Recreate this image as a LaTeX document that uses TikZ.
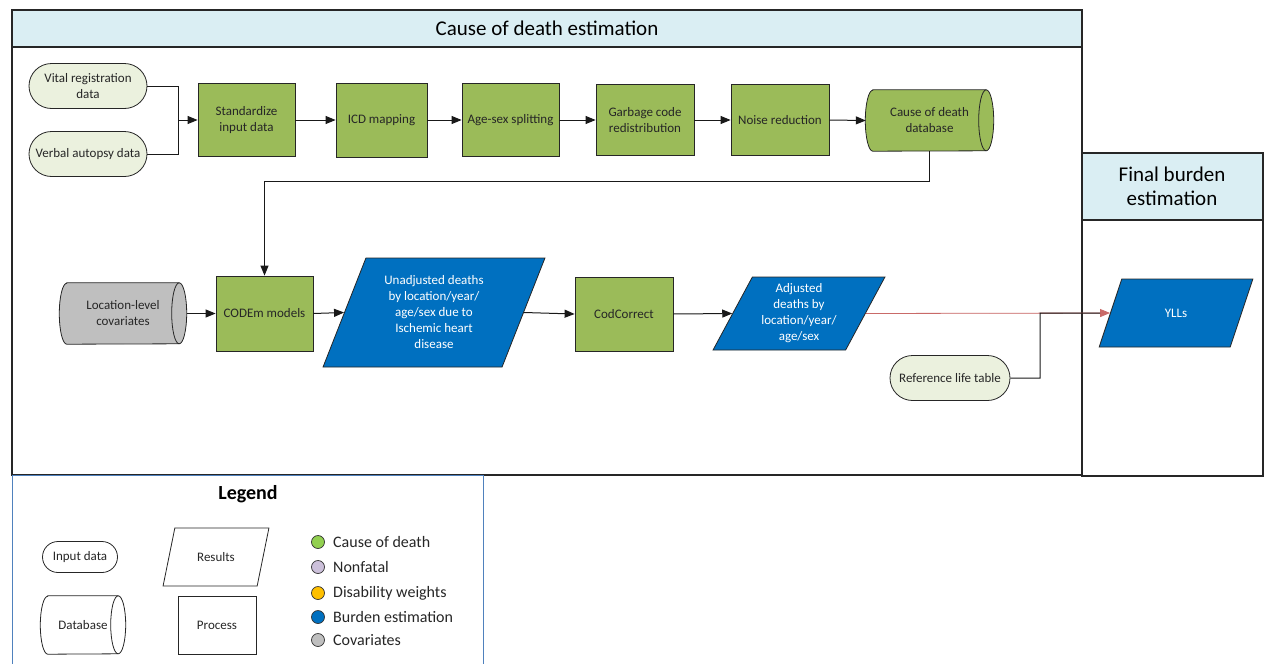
\documentclass[tikz,border=0pt]{standalone}
\usepackage{fontspec}
\setmainfont{Carlito}
\setsansfont{Carlito}
\usetikzlibrary{arrows.meta, shapes.geometric, shapes.misc, positioning}

\definecolor{hdrblue}{HTML}{DAEEF3}
\definecolor{codgreen}{HTML}{9BBB59}
\definecolor{inpgreen}{HTML}{EBF1DE}
\definecolor{burdblue}{HTML}{0070C0}
\definecolor{covgray}{HTML}{BFBFBF}
\definecolor{lgdblue}{HTML}{4F81BD}
\definecolor{ylllink}{HTML}{C0504D}
\definecolor{keygreen}{HTML}{92D050}
\definecolor{keylilac}{HTML}{CCC0DA}
\definecolor{keygold}{HTML}{FFC000}

\tikzset{
	base/.style={draw=black!85, line width=0.8pt, text=black!85, font=\sffamily\fontsize{13}{16}\selectfont, align=center, inner sep=1pt},
	procbox/.style={base, rectangle, fill=codgreen},
	inbox/.style={base, rounded rectangle, fill=inpgreen},
	dbcore/.style={rectangle, inner sep=0pt},
	dbtext/.style={base, draw=none},
	resbox/.style={base, trapezium, trapezium left angle=64, trapezium right angle=116, trapezium stretches=true, fill=burdblue, text=white},
	keydot/.style={circle, draw=black!80, line width=0.7pt, minimum size=13pt, inner sep=0pt},
	keytext/.style={anchor=west, inner sep=0pt, text=black!85, font=\sffamily\fontsize{16}{19}\selectfont},
	arr/.style={-{Triangle[length=10pt,width=8pt]}, line width=1pt, black!90},
	frame/.style={draw=black!85, line width=1.2pt}
}

% database drum round a named node: name, fill, end radius x, end radius y
\newcommand{\dbshape}[4]{%
	\draw[draw=black!85, line width=0.8pt, fill=#2] (#1.north west) -- (#1.north east) arc[start angle=90, end angle=-90, x radius=#3, y radius=#4] -- (#1.south west) arc[start angle=270, end angle=90, x radius=#3, y radius=#4] -- cycle;
	\draw[draw=black!85, line width=0.8pt] (#1.north east) arc[start angle=90, end angle=270, x radius=#3, y radius=#4];
}

\begin{document}
\begin{tikzpicture}[x=1pt, y=-1pt, font=\sffamily]
	\def\bw{97}
	\def\bh{73}
	\useasboundingbox (0,0) rectangle (1267,664);

	% swimlanes
	\draw[frame]				(12,10) rectangle (1082,475);
	\draw[frame, fill=hdrblue]	(12,10) rectangle (1082,47);
	\node[font=\sffamily\fontsize{21}{24}\selectfont] (ttlcod) at (547,28) {Cause of death estimation};
	\draw[frame]				(1082,153) rectangle (1263,476);
	\draw[frame, fill=hdrblue]	(1082,153) rectangle (1263,220);
	\node[font=\sffamily\fontsize{21}{24}\selectfont, align=center] (ttlfin) at (1172,186) {Final burden\\estimation};

	% data preparation
	\node[inbox, minimum width=120, minimum height=45]	(vr)	at (88,86)		{Vital registration\\data};
	\node[inbox, minimum width=120, minimum height=45]	(va)	at (88,154)		{Verbal autopsy data};
	\coordinate (jn) at (178,120);
	\node[procbox, minimum width=\bw, minimum height=\bh]	(std)	at (246.5,120)	{Standardize\\input data};
	\node[procbox, minimum width=91, minimum height=74]		(icd)	at (381.5,120)	{ICD mapping};
	\node[procbox, minimum width=\bw, minimum height=\bh]	(age)	at (510.5,120)	{Age-sex splitting};
	\node[procbox, minimum width=98, minimum height=71]		(gbg)	at (645,120)	{Garbage code\\redistribution};
	\node[procbox, minimum width=98, minimum height=71]		(noise)	at (780,120)	{Noise reduction};
	\node[dbcore, minimum width=113, minimum height=61]		(db)	at (929.5,120.5) {};
	\dbshape{db}{codgreen}{7.5pt}{30.5pt}
	\node[dbtext] (dbtxt) at (db) {Cause of death\\database};

	% modelling
	\node[dbcore, minimum width=112, minimum height=61]		(cov)	at (123,313.5) {};
	\dbshape{cov}{covgray}{7.5pt}{30.5pt}
	\node[dbtext] (covtxt) at (cov) {Location-level\\covariates};
	\node[procbox, minimum width=\bw, minimum height=75]	(codem)	at (264.5,313.5)	{CODEm models};
	\node[resbox, trapezium left angle=67, trapezium right angle=113, minimum width=222, minimum height=109]	(unadj)	at (434,312.5)	{Unadjusted deaths\\by location/year/\\age/sex due to\\Ischemic heart\\disease};
	\node[procbox, minimum width=98, minimum height=74]		(codc)	at (624,314)	{CodCorrect};
	\node[resbox, trapezium left angle=62, trapezium right angle=118, minimum width=172, minimum height=73]	(adj)	at (799,313.5)	{Adjusted\\deaths by\\location/year/\\age/sex};
	\node[inbox, minimum width=122, minimum height=45]	(ref)	at (950,378)	{Reference life table};
	\node[resbox, minimum width=154, minimum height=68]	(yll)	at (1176,313)	{YLLs};
	\coordinate (mrg) at (1040,313);

	% connectors
	\draw[line width=1pt, black!90]	(vr.east) -| (jn);
	\draw[line width=1pt, black!90]	(va.east) -| (jn);
	\draw[arr]	(jn) -- (std.west);
	\draw[arr]	(std) -- (icd);
	\draw[arr]	(icd) -- (age);
	\draw[arr]	(age) -- (gbg);
	\draw[arr]	(gbg) -- (noise);
	\draw[arr]	(noise.east) -- ([xshift=-7pt]db.west);
	\draw[arr]	(db.south) -- ++(0,30) -| (codem.north);
	\draw[arr]	([xshift=7.5pt]cov.east) -- (codem.west);
	\draw[arr]	(codem.east) -- (unadj.west);
	\draw[arr]	(unadj.east) -- (codc.west);
	\draw[arr]	(codc.east) -- (adj.west);
	\draw[arr, draw=ylllink!85, fill=ylllink, line width=0.8pt]	(adj.east) -- (yll.west);
	\draw[line width=1pt, black!90, shorten >=10pt]	(ref.east) -| (mrg) -- (yll.west);

	% legend
	\draw[draw=lgdblue, line width=1pt]	(12.5,475) rectangle (483,670);
	\node[font=\sffamily\bfseries\fontsize{20}{24}\selectfont] (lgd) at (248,494) {Legend};
	\node[base, rounded rectangle, minimum width=77, minimum height=31]	(kin)	at (80,557)	{Input data};
	\node[base, trapezium, trapezium left angle=63, trapezium right angle=117, trapezium stretches=true, minimum width=106, minimum height=58]	(kres)	at (216,557)	{Results};
	\node[dbcore, minimum width=70, minimum height=58]	(kdb)	at (83,625)	{};
	\dbshape{kdb}{white}{7.5pt}{29pt}
	\node[dbtext] (kdbtxt) at (kdb) {Database};
	\node[base, rectangle, minimum width=78, minimum height=58]	(kproc)	at (217,625)	{Process};

	\node[keydot, fill=keygreen]	(dcod)	at (318,542)	{};
	\node[keydot, fill=keylilac]	(dnf)	at (318,567)	{};
	\node[keydot, fill=keygold]		(ddw)	at (318,593)	{};
	\node[keydot, fill=burdblue]	(dbe)	at (318,617)	{};
	\node[keydot, fill=covgray]		(dcv)	at (318,640)	{};
	\node[keytext]	(tcod)	at (333,542)	{Cause of death};
	\node[keytext]	(tnf)	at (333,567)	{Nonfatal};
	\node[keytext]	(tdw)	at (333,593)	{Disability weights};
	\node[keytext]	(tbe)	at (333,617)	{Burden estimation};
	\node[keytext]	(tcv)	at (333,640)	{Covariates};
\end{tikzpicture}
\end{document}
